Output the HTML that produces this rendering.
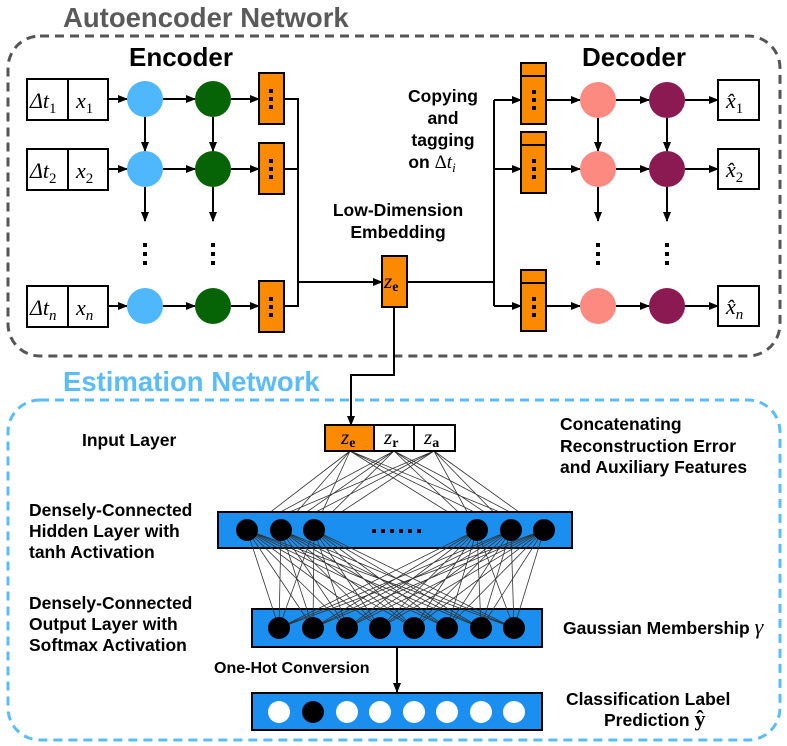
<!DOCTYPE html>
<html><head><meta charset="utf-8"><style>
html,body{margin:0;padding:0;background:#fff}
svg{display:block}
.b{font-family:"Liberation Sans",sans-serif;font-weight:bold}
.m{font-family:"Liberation Serif",serif;font-style:italic}
</style></head><body>
<svg width="787" height="746" viewBox="0 0 787 746" xmlns="http://www.w3.org/2000/svg">
<defs>
<marker id="ar" markerWidth="10" markerHeight="10" refX="9" refY="5" orient="auto" markerUnits="userSpaceOnUse"><path d="M0,1 L10,5 L0,9 z" fill="#000"/></marker>
</defs>
<text x="63" y="27" class="b" font-size="27.5" fill="#5a5a5a">Autoencoder Network</text>
<rect x="8" y="36" width="772" height="320" rx="32" fill="none" stroke="#555" stroke-width="3" stroke-dasharray="9,6"/>
<text x="63" y="391" class="b" font-size="27.5" fill="#5bbcf7">Estimation Network</text>
<rect x="8" y="400" width="772" height="340" rx="32" fill="none" stroke="#5bbcf7" stroke-width="3" stroke-dasharray="9,6"/>

<text x="181" y="66" class="b" font-size="26" text-anchor="middle">Encoder</text>
<text x="634" y="66" class="b" font-size="26" text-anchor="middle">Decoder</text>

<g stroke="#000" stroke-width="2" fill="none">
<rect x="27" y="79" width="81" height="41" fill="#fff"/><line x1="68" y1="79" x2="68" y2="120"/>
<rect x="27" y="149" width="81" height="41" fill="#fff"/><line x1="68" y1="149" x2="68" y2="190"/>
<rect x="27" y="286" width="81" height="41" fill="#fff"/><line x1="68" y1="286" x2="68" y2="327"/>
</g>
<g class="m" font-size="22">
<text x="30" y="108">Δ<tspan>t</tspan><tspan font-size="15" dy="5" font-style="normal">1</tspan></text>
<text x="76" y="108">x<tspan font-size="15" dy="5" font-style="normal">1</tspan></text>
<text x="30" y="178">Δ<tspan>t</tspan><tspan font-size="15" dy="5" font-style="normal">2</tspan></text>
<text x="76" y="178">x<tspan font-size="15" dy="5" font-style="normal">2</tspan></text>
<text x="30" y="315">Δ<tspan>t</tspan><tspan font-size="15" dy="5">n</tspan></text>
<text x="76" y="315">x<tspan font-size="15" dy="5">n</tspan></text>
</g>

<g stroke="#000" stroke-width="2" fill="none" marker-end="url(#ar)">
<line x1="108" y1="99" x2="127" y2="99"/><line x1="163" y1="99" x2="195" y2="99"/><line x1="231" y1="99" x2="259" y2="99"/>
<line x1="108" y1="169" x2="127" y2="169"/><line x1="163" y1="169" x2="195" y2="169"/><line x1="231" y1="169" x2="259" y2="169"/>
<line x1="108" y1="306" x2="127" y2="306"/><line x1="163" y1="306" x2="195" y2="306"/><line x1="231" y1="306" x2="259" y2="306"/>
<line x1="145" y1="117" x2="145" y2="151"/><line x1="213" y1="117" x2="213" y2="151"/>
<line x1="145" y1="187" x2="145" y2="221"/><line x1="213" y1="187" x2="213" y2="221"/>
<line x1="298" y1="282" x2="382" y2="282"/>
<line x1="494" y1="100" x2="521" y2="100"/><line x1="494" y1="169" x2="521" y2="169"/><line x1="494" y1="306" x2="521" y2="306"/>
<line x1="546" y1="100" x2="580" y2="100"/><line x1="616" y1="100" x2="649" y2="100"/><line x1="685" y1="100" x2="718" y2="100"/>
<line x1="546" y1="169" x2="580" y2="169"/><line x1="616" y1="169" x2="649" y2="169"/><line x1="685" y1="169" x2="718" y2="169"/>
<line x1="546" y1="306" x2="580" y2="306"/><line x1="616" y1="306" x2="649" y2="306"/><line x1="685" y1="306" x2="718" y2="306"/>
<line x1="598" y1="118" x2="598" y2="151"/><line x1="667" y1="118" x2="667" y2="151"/>
<line x1="598" y1="187" x2="598" y2="221"/><line x1="667" y1="187" x2="667" y2="221"/>
<polyline points="394,307 394,375 351,375 351,425"/>
<line x1="397" y1="647" x2="397" y2="692"/>
</g>
<g stroke="#000" stroke-width="2" fill="none">
<polyline points="284,99 298,99 298,306 284,306"/><line x1="284" y1="169" x2="298" y2="169"/>
<line x1="407" y1="282" x2="494" y2="282"/><line x1="494" y1="100" x2="494" y2="306"/>
</g>

<g fill="#4fb8fc"><circle cx="145" cy="99" r="18"/><circle cx="145" cy="169" r="18"/><circle cx="145" cy="306" r="18"/></g>
<g fill="#066406"><circle cx="213" cy="99" r="18"/><circle cx="213" cy="169" r="18"/><circle cx="213" cy="306" r="18"/></g>
<g fill="#fd8a80"><circle cx="598" cy="100" r="18"/><circle cx="598" cy="169" r="18"/><circle cx="598" cy="306" r="18"/></g>
<g fill="#8a1a51"><circle cx="667" cy="100" r="18"/><circle cx="667" cy="169" r="18"/><circle cx="667" cy="306" r="18"/></g>

<g fill="#000">
<rect x="143" y="243" width="4" height="4"/><rect x="143" y="252" width="4" height="4"/><rect x="143" y="261" width="4" height="4"/>
<rect x="211" y="243" width="4" height="4"/><rect x="211" y="252" width="4" height="4"/><rect x="211" y="261" width="4" height="4"/>
<rect x="596" y="243" width="4" height="4"/><rect x="596" y="252" width="4" height="4"/><rect x="596" y="261" width="4" height="4"/>
<rect x="665" y="243" width="4" height="4"/><rect x="665" y="252" width="4" height="4"/><rect x="665" y="261" width="4" height="4"/>
</g>

<g stroke="#000" stroke-width="2" fill="#fb8a00">
<rect x="259" y="73" width="25" height="51"/><rect x="259" y="143" width="25" height="51"/><rect x="259" y="281" width="25" height="51"/>
<rect x="521" y="63" width="25" height="61"/><rect x="521" y="132" width="25" height="61"/><rect x="521" y="270" width="25" height="61"/>
<rect x="382" y="256" width="25" height="51"/>
</g>
<g stroke="#000" stroke-width="2"><line x1="521" y1="76" x2="546" y2="76"/><line x1="521" y1="145" x2="546" y2="145"/><line x1="521" y1="283" x2="546" y2="283"/></g>
<g fill="#000">
<rect x="269" y="89" width="4" height="4"/><rect x="269" y="97" width="4" height="4"/><rect x="269" y="105" width="4" height="4"/>
<rect x="269" y="159" width="4" height="4"/><rect x="269" y="167" width="4" height="4"/><rect x="269" y="175" width="4" height="4"/>
<rect x="269" y="297" width="4" height="4"/><rect x="269" y="305" width="4" height="4"/><rect x="269" y="313" width="4" height="4"/>
<rect x="532" y="90" width="4" height="4"/><rect x="532" y="98" width="4" height="4"/><rect x="532" y="106" width="4" height="4"/>
<rect x="532" y="159" width="4" height="4"/><rect x="532" y="167" width="4" height="4"/><rect x="532" y="175" width="4" height="4"/>
<rect x="532" y="297" width="4" height="4"/><rect x="532" y="305" width="4" height="4"/><rect x="532" y="313" width="4" height="4"/>
</g>
<text x="384" y="288" class="m" font-size="21">z<tspan font-family="Liberation Serif" font-style="normal" font-weight="bold" font-size="14" dy="3">e</tspan></text>

<g stroke="#000" stroke-width="2" fill="#fff">
<rect x="718" y="80" width="41" height="40"/><rect x="718" y="149" width="41" height="40"/><rect x="718" y="286" width="41" height="40"/>
</g>
<g class="m" font-size="22">
<text x="726" y="108">x̂<tspan font-size="15" dy="5" font-style="normal">1</tspan></text>
<text x="726" y="177">x̂<tspan font-size="15" dy="5" font-style="normal">2</tspan></text>
<text x="726" y="314">x̂<tspan font-size="15" dy="5">n</tspan></text>
</g>

<g class="b" font-size="17.5">
<text x="443" y="102" text-anchor="middle">Copying</text>
<text x="443" y="124" text-anchor="middle">and</text>
<text x="443" y="146" text-anchor="middle">tagging</text>
<text x="432" y="168" text-anchor="middle">on <tspan font-weight="normal" font-family="Liberation Serif" font-size="19">Δ</tspan><tspan class="m" font-weight="normal" font-size="19">t</tspan><tspan class="m" font-weight="normal" font-size="13" dy="4">i</tspan></text>
<text x="398" y="216" text-anchor="middle">Low-Dimension</text>
<text x="398" y="238" text-anchor="middle">Embedding</text>
</g>

<g stroke="#333" stroke-width="0.8" fill="none">
<path d="M350 451L247 530M350 451L281 530M350 451L314 530M350 451L477 530M350 451L511 530M350 451L544 530
M394 451L247 530M394 451L281 530M394 451L314 530M394 451L477 530M394 451L511 530M394 451L544 530
M434 451L247 530M434 451L281 530M434 451L314 530M434 451L477 530M434 451L511 530M434 451L544 530"/>
</g>
<rect x="218" y="512" width="354" height="36" fill="#1a8ff0" stroke="#000" stroke-width="2"/>
<rect x="252" y="609" width="290" height="38" fill="#1a8ff0" stroke="#000" stroke-width="2"/>
<rect x="252" y="693" width="290" height="37" fill="#1a8ff0" stroke="#000" stroke-width="2"/>
<g stroke="#333" stroke-width="0.8" fill="none">
<path d="M247 530L279 628M247 530L313 628M247 530L347 628M247 530L380 628M247 530L414 628M247 530L447 628M247 530L481 628M247 530L514 628
M281 530L279 628M281 530L313 628M281 530L347 628M281 530L380 628M281 530L414 628M281 530L447 628M281 530L481 628M281 530L514 628
M314 530L279 628M314 530L313 628M314 530L347 628M314 530L380 628M314 530L414 628M314 530L447 628M314 530L481 628M314 530L514 628
M477 530L279 628M477 530L313 628M477 530L347 628M477 530L380 628M477 530L414 628M477 530L447 628M477 530L481 628M477 530L514 628
M511 530L279 628M511 530L313 628M511 530L347 628M511 530L380 628M511 530L414 628M511 530L447 628M511 530L481 628M511 530L514 628
M544 530L279 628M544 530L313 628M544 530L347 628M544 530L380 628M544 530L414 628M544 530L447 628M544 530L481 628M544 530L514 628"/>
</g>
<g fill="#000">
<circle cx="247" cy="530" r="11"/><circle cx="281" cy="530" r="11"/><circle cx="314" cy="530" r="11"/>
<circle cx="477" cy="530" r="11"/><circle cx="511" cy="530" r="11"/><circle cx="544" cy="530" r="11"/>
<rect x="372" y="529" width="4" height="4"/><rect x="381" y="529" width="4" height="4"/><rect x="390" y="529" width="4" height="4"/><rect x="399" y="529" width="4" height="4"/><rect x="408" y="529" width="4" height="4"/><rect x="417" y="529" width="4" height="4"/>
<circle cx="279" cy="628" r="11"/><circle cx="313" cy="628" r="11"/><circle cx="347" cy="628" r="11"/><circle cx="380" cy="628" r="11"/>
<circle cx="414" cy="628" r="11"/><circle cx="447" cy="628" r="11"/><circle cx="481" cy="628" r="11"/><circle cx="514" cy="628" r="11"/>
<circle cx="313" cy="712" r="11"/>
</g>
<g fill="#fff">
<circle cx="279" cy="712" r="11"/><circle cx="347" cy="712" r="11"/><circle cx="380" cy="712" r="11"/>
<circle cx="414" cy="712" r="11"/><circle cx="447" cy="712" r="11"/><circle cx="481" cy="712" r="11"/><circle cx="514" cy="712" r="11"/>
</g>

<g stroke="#000" stroke-width="2">
<rect x="325" y="425" width="49" height="26" fill="#fb8a00"/>
<rect x="374" y="425" width="40" height="26" fill="#fff"/>
<rect x="414" y="425" width="41" height="26" fill="#fff"/>
</g>
<g class="m" font-size="21">
<text x="341" y="444">z<tspan font-family="Liberation Serif" font-style="normal" font-weight="bold" font-size="14" dy="3">e</tspan></text>
<text x="384" y="444">z<tspan font-family="Liberation Serif" font-style="normal" font-weight="bold" font-size="14" dy="3">r</tspan></text>
<text x="424" y="444">z<tspan font-family="Liberation Serif" font-style="normal" font-weight="bold" font-size="14" dy="3">a</tspan></text>
</g>

<g class="b" font-size="17.5">
<text x="82" y="446">Input Layer</text>
<text x="29" y="516">Densely-Connected</text>
<text x="29" y="537">Hidden Layer with</text>
<text x="29" y="558">tanh Activation</text>
<text x="29" y="609">Densely-Connected</text>
<text x="29" y="630">Output Layer with</text>
<text x="29" y="651">Softmax Activation</text>
<text x="214" y="673" font-size="16">One-Hot Conversion</text>
<text x="560" y="430">Concatenating</text>
<text x="560" y="452">Reconstruction Error</text>
<text x="560" y="473">and Auxiliary Features</text>
<text x="563" y="634">Gaussian Membership <tspan class="m" font-weight="normal" font-size="22">γ</tspan></text>
<text x="566" y="705">Classification Label</text>
<text x="604" y="726">Prediction <tspan font-family="Liberation Serif" font-size="22">ŷ</tspan></text>
</g>
</svg>
</body></html>
